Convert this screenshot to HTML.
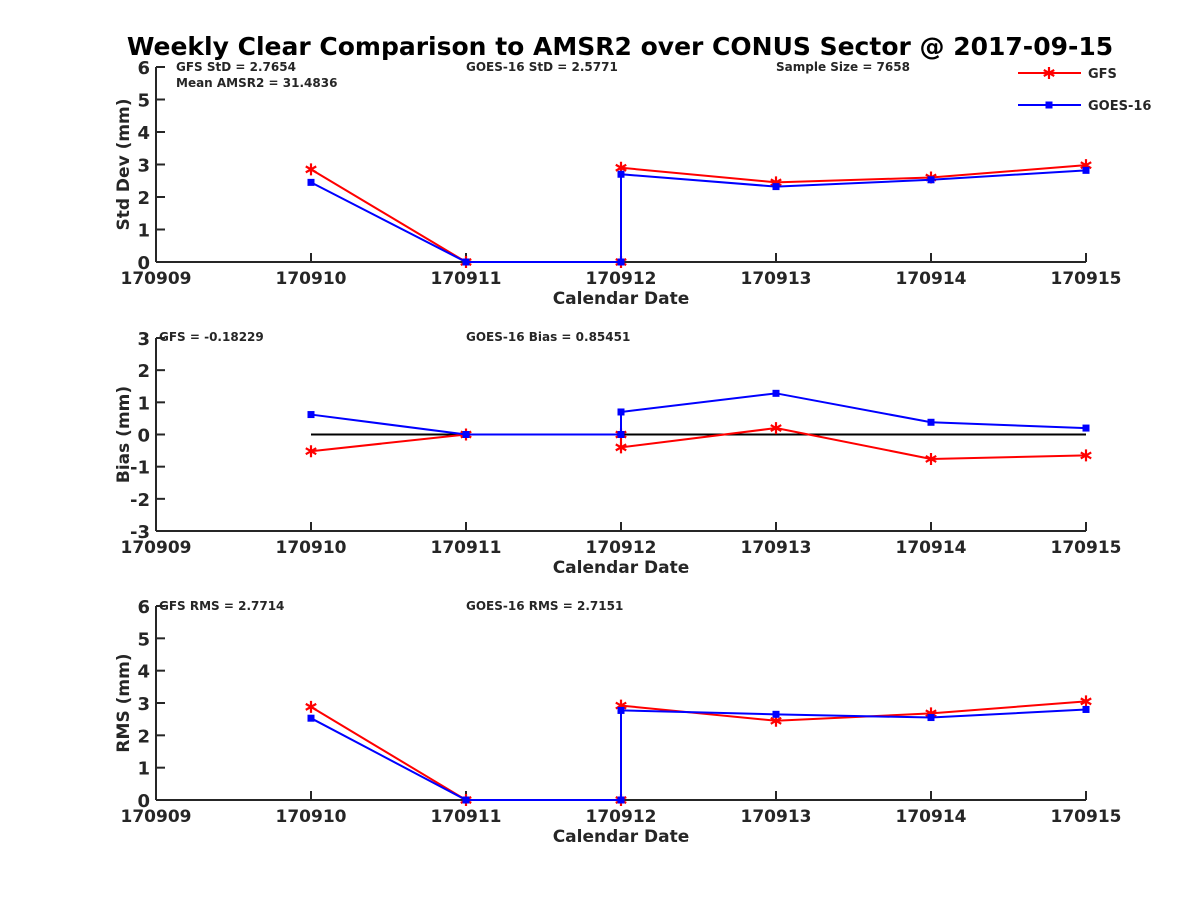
<!DOCTYPE html>
<html><head><meta charset="utf-8"><style>
body{margin:0;background:#fff;width:1200px;height:900px;overflow:hidden}
text{font-family:"DejaVu Sans","Liberation Sans",sans-serif;font-weight:bold;fill:#262626}
</style></head><body>
<svg id="c" width="1200" height="900" viewBox="0 0 1200 900">
<text x="620" y="55" text-anchor="middle" font-size="25" style="fill:#000">Weekly Clear Comparison to AMSR2 over CONUS Sector @ 2017-09-15</text>
</svg>
<script>
const days=[10,11,12,12,13,14,15];
const xTicks=['170909','170910','170911','170912','170913','170914','170915'];
const stdGFS=[2.85,0,0,2.9,2.45,2.6,2.98];
const stdGOES=[2.45,0,0,2.7,2.32,2.53,2.82];
const biasGFS=[-0.52,0,0,-0.4,0.2,-0.76,-0.65];
const biasGOES=[0.62,0,0,0.7,1.28,0.38,0.2];
const rmsGFS=[2.88,0,0,2.92,2.45,2.68,3.05];
const rmsGOES=[2.53,0,0,2.77,2.65,2.55,2.8];
const svg=document.getElementById('c');const NS='http://www.w3.org/2000/svg';
function el(t,a,txt){const e=document.createElementNS(NS,t);for(const k in a)e.setAttribute(k,a[k]);if(txt!==undefined)e.textContent=txt;svg.appendChild(e);return e;}
const X0=156,X1=1086;
function xs(d){return X0+(d-9)*(X1-X0)/6;}
function star(cx,cy){const r=6,d=r*0.87;
  return el('path',{d:`M${cx},${cy-r}V${cy+r}M${cx-d},${cy-r/2}L${cx+d},${cy+r/2}M${cx-d},${cy+r/2}L${cx+d},${cy-r/2}`,stroke:'red','stroke-width':2.2,fill:'none'});}
function panel(name,top,bot,ymin,ymax,ylabel,gfs,goes,notes,zero){
  const ys=v=>bot-(v-ymin)*(bot-top)/(ymax-ymin);
  let a=el('line',{x1:X0,y1:top,x2:X0,y2:bot,stroke:'#262626','stroke-width':2});
  
  a=el('line',{x1:X0,y1:bot,x2:X1,y2:bot,stroke:'#262626','stroke-width':2});
  
  for(let v=ymin;v<=ymax;v++){
    el('line',{x1:X0,y1:ys(v),x2:X0+9,y2:ys(v),stroke:'#262626','stroke-width':2});
    const t=el('text',{x:X0-6,y:ys(v)+7,'text-anchor':'end','font-size':18},String(v));
    
  }
  xTicks.forEach((lab,i)=>{
    el('line',{x1:xs(9+i),y1:bot,x2:xs(9+i),y2:bot-9,stroke:'#262626','stroke-width':2});
    const t=el('text',{x:xs(9+i),y:bot+22,'text-anchor':'middle','font-size':17},lab);
    
  });
  let t=el('text',{x:621,y:bot+42,'text-anchor':'middle','font-size':17},'Calendar Date');
  
  t=el('text',{x:0,y:0,'text-anchor':'middle','font-size':17,transform:`translate(129,${(top+bot)/2}) rotate(-90)`},ylabel);
  
  notes.forEach(n=>{const e=el('text',{x:n[0],y:n[1],'font-size':12},n[2]);
    });
  if(zero){const z=el('line',{x1:xs(10),y1:ys(0),x2:xs(15),y2:ys(0),stroke:'#000','stroke-width':2});
    }
  [[gfs,'red','gfs'],[goes,'blue','goes']].forEach(([arr,col,sn])=>{
    const pts=arr.map((v,i)=>xs(days[i])+','+ys(v)).join(' ');
    const p=el('polyline',{points:pts,fill:'none',stroke:col,'stroke-width':2});
    
    arr.forEach((v,i)=>{
      const cx=xs(days[i]),cy=ys(v);let m;
      if(sn==='goes'){m=el('rect',{x:cx-3.5,y:cy-3.5,width:7,height:7,fill:col});}
      else{m=star(cx,cy);}
      
    });
  });
}
panel('stddev',67,262,0,6,'Std Dev (mm)',stdGFS,stdGOES,[[176,71,'GFS StD = 2.7654'],[176,87,'Mean AMSR2 = 31.4836'],[466,71,'GOES-16 StD = 2.5771'],[776,71,'Sample Size = 7658']],false);
panel('bias',338,531,-3,3,'Bias (mm)',biasGFS,biasGOES,[[159,341,'GFS = -0.18229'],[466,341,'GOES-16 Bias  = 0.85451']],true);
panel('rms',606,800,0,6,'RMS (mm)',rmsGFS,rmsGOES,[[159,610,'GFS RMS = 2.7714'],[466,610,'GOES-16 RMS = 2.7151']],false);
let l=el('line',{x1:1018,y1:73,x2:1081,y2:73,stroke:'red','stroke-width':2});

l=star(1049,73);

l=el('text',{x:1088,y:78,'font-size':13},'GFS');

l=el('line',{x1:1018,y1:105,x2:1081,y2:105,stroke:'blue','stroke-width':2});

l=el('rect',{x:1045.5,y:101.5,width:7,height:7,fill:'blue'});

l=el('text',{x:1088,y:110,'font-size':13},'GOES-16');

</script>
</body></html>
